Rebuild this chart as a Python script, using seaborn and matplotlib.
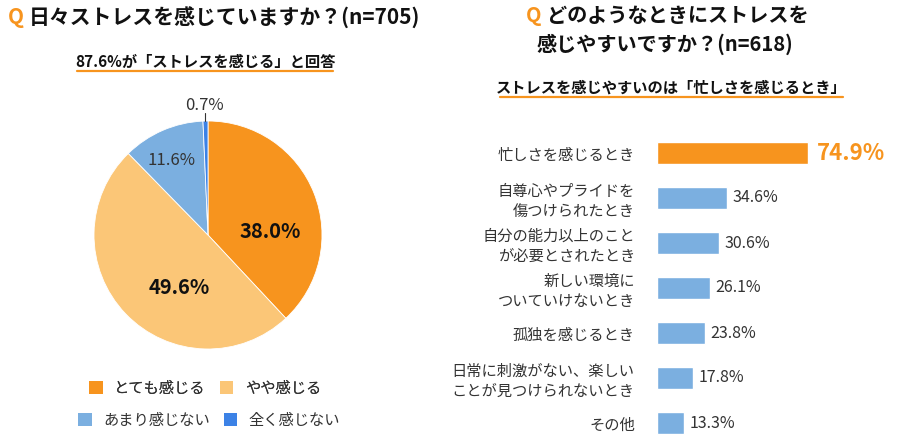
import matplotlib
matplotlib.use("Agg")
import matplotlib.pyplot as plt
from matplotlib.patches import Patch
from matplotlib.lines import Line2D
import seaborn as sns
import pandas as pd

# left: 日々ストレスを感じていますか？ (n=705)
pie_labels = ["とても感じる", "やや感じる", "あまり感じない", "全く感じない"]
pie_values = [38.0, 49.6, 11.6, 0.7]

# right: どのようなときにストレスを感じやすいですか？ (n=618)
bar_labels = [
    "忙しさを感じるとき",
    "自尊心やプライドを\n傷つけられたとき",
    "自分の能力以上のこと\nが必要とされたとき",
    "新しい環境に\nついていけないとき",
    "孤独を感じるとき",
    "日常に刺激がない、楽しい\nことが見つけられないとき",
    "その他",
]
bar_values = [74.9, 34.6, 30.6, 26.1, 23.8, 17.8, 13.3]

ORANGE = "#F7941E"
LIGHT_ORANGE = "#FBC677"
LIGHT_BLUE = "#7BAFE0"
BLUE = "#3C82E6"
pie_colors = [ORANGE, LIGHT_ORANGE, LIGHT_BLUE, BLUE]

sns.set_style("white")
plt.rcParams["font.family"] = ["Noto Sans CJK JP", "DejaVu Sans"]

W, H = 900, 447
fig = plt.figure(figsize=(9, 4.47), dpi=100)


def px(x, y):
    # pixel position (from top-left) -> figure fraction
    return x / W, 1 - y / H


# ---- titles ----
fig.text(*px(8, 18), "Q", color=ORANGE, fontsize=15, fontweight="bold", va="center")
fig.text(*px(29, 18), "日々ストレスを感じていますか？(n=705)", fontsize=15,
         fontweight="bold", va="center", color="#111111")
fig.text(*px(205, 62), "87.6%が「ストレスを感じる」と回答", fontsize=11,
         fontweight="bold", ha="center", va="center", color="#111111")
fig.add_artist(Line2D([77 / W, 333 / W], [1 - 71 / H] * 2, color=ORANGE, lw=1.6))

fig.text(*px(526, 16), "Q", color=ORANGE, fontsize=14.5, fontweight="bold", va="center")
fig.text(*px(547, 16), "どのようなときにストレスを", fontsize=14.5,
         fontweight="bold", va="center", color="#111111")
fig.text(*px(537, 44), "感じやすいですか？(n=618)", fontsize=14.5,
         fontweight="bold", va="center", color="#111111")
fig.text(*px(671, 88), "ストレスを感じやすいのは「忙しさを感じるとき」", fontsize=11,
         fontweight="bold", ha="center", va="center", color="#111111")
fig.add_artist(Line2D([500 / W, 843 / W], [1 - 97 / H] * 2, color=ORANGE, lw=1.6))

# ---- pie ----
cx, cy, r = 208, 235, 114
ax1 = fig.add_axes([(cx - r) / W, (H - cy - r) / H, 2 * r / W, 2 * r / H])
wedges, _ = ax1.pie(pie_values, colors=pie_colors, startangle=90, counterclock=False,
                    wedgeprops=dict(edgecolor="white", linewidth=0.6))
ax1.set_xlim(-1, 1)
ax1.set_ylim(-1, 1)
ax1.set_aspect("auto")
ax1.text(0.55, 0.03, "38.0%", fontsize=14.5, fontweight="bold", ha="center",
         va="center", color="#111111")
ax1.text(-0.25, -0.46, "49.6%", fontsize=14.5, fontweight="bold", ha="center",
         va="center", color="#111111")
ax1.text(-0.32, 0.65, "11.6%", fontsize=12, ha="center", va="center", color="#333333")
ax1.text(-0.03, 1.14, "0.7%", fontsize=12, ha="center", va="center", color="#333333")
ax1.plot([-0.03, -0.03], [1.0, 1.07], color="#333333", lw=0.8, clip_on=False)

handles = [Patch(facecolor=c, edgecolor="none") for c in pie_colors]
leg_kw = dict(ncol=2, frameon=False, fontsize=11, handlelength=0.9, handleheight=0.9,
              columnspacing=0.9, handletextpad=0.75, labelcolor="#333333",
              borderpad=0, borderaxespad=0)
leg1 = fig.legend(handles[:2], pie_labels[:2], loc="center",
                  bbox_to_anchor=px(205, 388), **leg_kw)
fig.add_artist(leg1)
fig.legend(handles[2:], pie_labels[2:], loc="center", bbox_to_anchor=px(209, 420), **leg_kw)

# ---- bars ----
df = pd.DataFrame({"label": bar_labels, "value": bar_values})
ax2 = fig.add_axes([657 / W, 1.5 / H, 202 / W, 315 / H])
sns.barplot(data=df, x="value", y="label", hue="label", saturation=1,
            palette=[ORANGE] + [LIGHT_BLUE] * 6, width=0.51, legend=False, ax=ax2)
ax2.set_xlim(0, 100)
ax2.set_ylim(6.5, -0.5)
ax2.set_xlabel("")
ax2.set_ylabel("")
ax2.set_xticks([])
sns.despine(ax=ax2, left=True, bottom=True)
ax2.tick_params(axis="y", length=0, pad=16, labelsize=11, labelcolor="#333333")
for t in ax2.get_yticklabels():
    t.set_linespacing(1.25)

for i, cont in enumerate(ax2.containers):
    if i == 0:
        ax2.bar_label(cont, fmt="%.1f%%", padding=6, fontsize=16, fontweight="bold",
                      color=ORANGE)
    else:
        ax2.bar_label(cont, fmt="%.1f%%", padding=4, fontsize=11.5, color="#333333")

fig.savefig("out.png", dpi=100)
